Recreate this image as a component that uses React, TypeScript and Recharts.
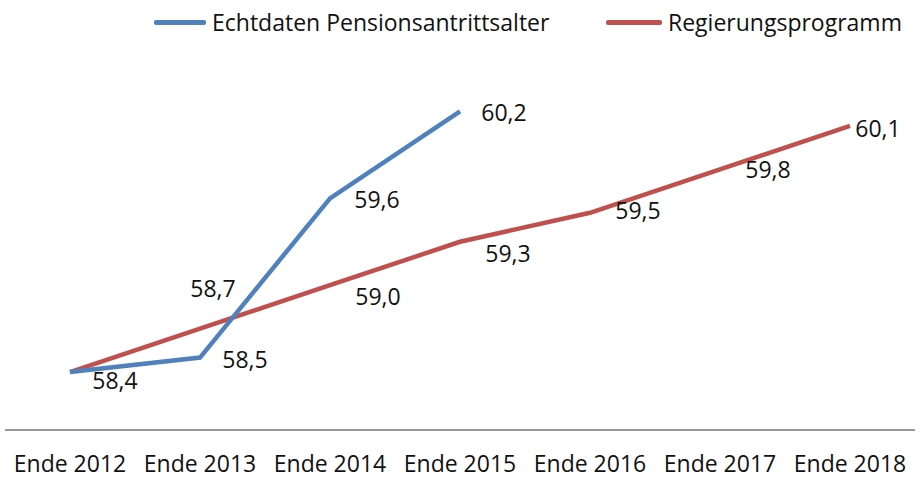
import { LineChart, Line, XAxis, YAxis, Legend, LabelList } from 'recharts';

const categories = ['Ende 2012', 'Ende 2013', 'Ende 2014', 'Ende 2015', 'Ende 2016', 'Ende 2017', 'Ende 2018'];
const echtdaten = [58.4, 58.5, 59.6, 60.2, null, null, null];
const regierung = [58.4, 58.7, 59.0, 59.3, 59.5, 59.8, 60.1];

const BLUE = '#4f81bd';
const RED = '#c0504d';
const FONT = '"Open Sans", sans-serif';

// label nudges (dx, dy from the point, to the label's centre), like the Excel original
const blueNudge = [[45, 8], [45, 1], [47, 1], [44, 1]];
const redNudge = [null, [13, -41], [48, 11], [48, 11], [48, -3], [48, 0], [28, 2]];

const data = categories.map((name, i) => ({ name, echt: echtdaten[i], reg: regierung[i] }));

const fmt = (v: number) => v.toFixed(1).replace('.', ',');

function makeLabel(nudge: (number[] | null)[]) {
  return (props: any) => {
    const { x, y, value, index } = props;
    const n = nudge[index];
    if (value == null || !n) return null;
    return (
      <text
        x={x + n[0]}
        y={y + n[1]}
        textAnchor="middle"
        dominantBaseline="central"
        fontSize={23}
        fontFamily={FONT}
        fill="#111"
      >
        {fmt(value)}
      </text>
    );
  };
}

function LegendBox() {
  const item = (color: string, label: string, left: number, lineW: number) => (
    <div style={{ position: 'absolute', left, top: 6, display: 'flex', alignItems: 'center' }}>
      <div style={{ width: lineW, height: 5, borderRadius: 2, background: color, marginRight: 6 }} />
      <span style={{ fontFamily: FONT, fontSize: 23, color: '#111', lineHeight: '32px' }}>{label}</span>
    </div>
  );
  return (
    <div style={{ position: 'relative', height: 44, width: 920 }}>
      {item(BLUE, 'Echtdaten Pensionsantrittsalter', 154, 52)}
      {item(RED, 'Regierungsprogramm', 606, 56)}
    </div>
  );
}

export default function App() {
  return (
    <div style={{ position: 'absolute', left: 0, top: 0, width: 920, height: 479, background: '#fff' }}>
      <LineChart width={920} height={479} data={data} margin={{ top: 24, right: 5, bottom: 0, left: 5 }}>
        <XAxis
          dataKey="name"
          padding={{ left: 65, right: 65 }}
          height={49}
          tickLine={false}
          axisLine={{ stroke: '#999', strokeWidth: 2 }}
          tick={{ fontSize: 23, fontFamily: FONT, fill: '#111' }}
          tickMargin={20}
          interval={0}
        />
        <YAxis hide domain={[58, 60.5]} allowDataOverflow />
        <Legend verticalAlign="top" content={() => <LegendBox />} wrapperStyle={{ top: 0, left: 0 }} />
        <Line
          dataKey="reg"
          stroke={RED}
          strokeWidth={4.5}
          dot={false}
          isAnimationActive={false}
        >
          <LabelList dataKey="reg" content={makeLabel(redNudge)} />
        </Line>
        <Line
          dataKey="echt"
          stroke={BLUE}
          strokeWidth={4.5}
          dot={false}
          connectNulls={false}
          isAnimationActive={false}
        >
          <LabelList dataKey="echt" content={makeLabel(blueNudge)} />
        </Line>
      </LineChart>
    </div>
  );
}
